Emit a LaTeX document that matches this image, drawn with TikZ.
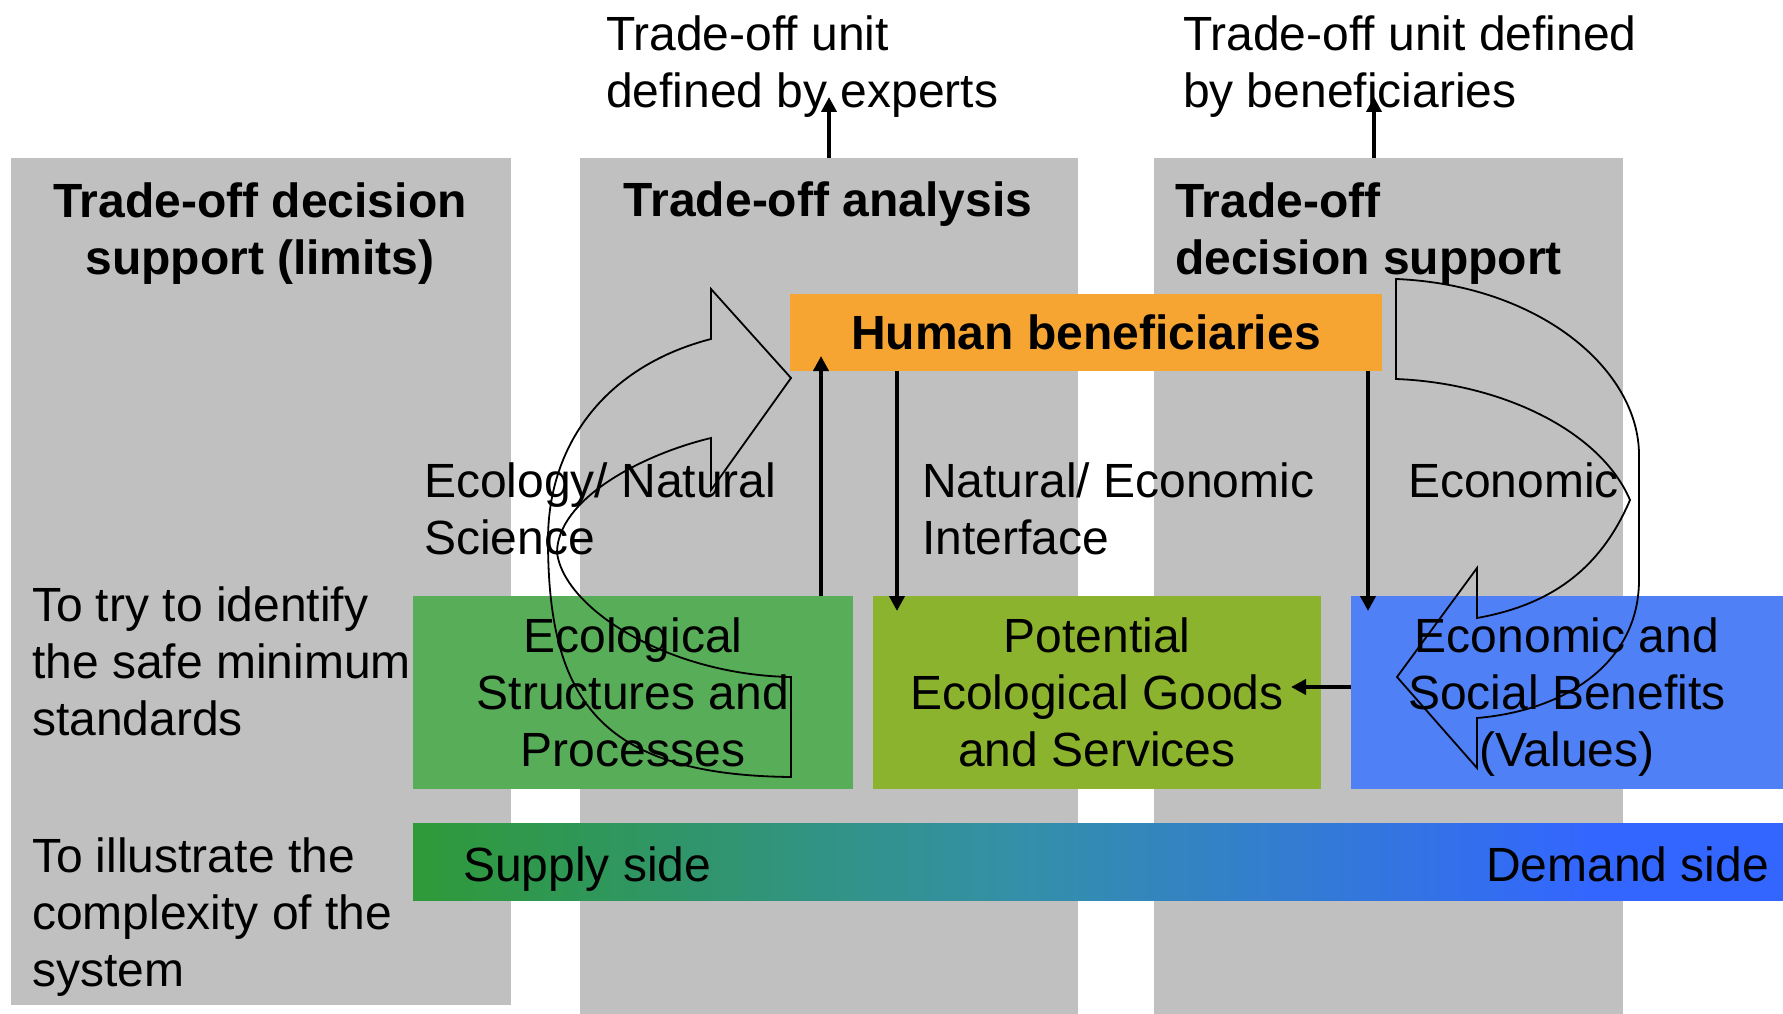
\documentclass[tikz,border=0pt]{standalone}
\usepackage{fontspec}
\setmainfont{Liberation Sans}
\usetikzlibrary{arrows.meta}
\definecolor{colgray}{HTML}{C0C0C0}
\definecolor{hbor}{HTML}{F6A533}
\definecolor{ecogreen}{HTML}{58AD58}
\definecolor{olive}{HTML}{8CB32E}
\definecolor{valblue}{HTML}{5080F6}
\definecolor{barg}{HTML}{2E9A38}
\definecolor{barm}{HTML}{3390A8}
\definecolor{barb}{HTML}{3366FF}
\pgfdeclarehorizontalshading{barshade}{100bp}{color(0bp)=(barg); color(25bp)=(barg); color(47bp)=(barm); color(68bp)=(barb); color(100bp)=(barb)}
\begin{document}
\begin{tikzpicture}[x=1pt,y=-1pt,
  every node/.style={inner sep=0pt, outer sep=0pt},
  lbl/.style={font=\fontsize{48}{57}\selectfont, text=black},
  hlbl/.style={font=\fontsize{48}{57}\selectfont\bfseries, text=black},
  colbox/.style={fill=colgray, anchor=north west},
  stripbox/.style={anchor=north west, align=center, font=\fontsize{48}{57}\selectfont},
  arr/.style={line width=4pt, -{Triangle[length=15pt,width=15pt]}},
  curv/.style={draw=black, line width=1.8pt, line join=miter}]
\useasboundingbox (0,0) rectangle (1783,1014);
\fill[white] (0,0) rectangle (1783,1014);
% columns
\node[colbox, minimum width=500pt, minimum height=847pt] (col1) at (11,158) {};
\node[colbox, minimum width=498pt, minimum height=856pt] (col2) at (580,158) {};
\node[colbox, minimum width=469pt, minimum height=856pt] (col3) at (1154,158) {};
% boxes
\node[stripbox, fill=hbor, minimum width=592pt, minimum height=77pt, font=\fontsize{48}{57}\selectfont\bfseries] (hb) at (790,294) {Human beneficiaries};
\node[stripbox, fill=ecogreen, minimum width=440pt, minimum height=193pt] (eco) at (413,596) {Ecological\\Structures and\\Processes};
\node[stripbox, fill=olive, minimum width=448pt, minimum height=193pt] (egs) at (873,596) {Potential\\Ecological Goods\\and Services};
\node[stripbox, fill=valblue, minimum width=432pt, minimum height=193pt] (val) at (1351,596) {Economic and\\Social Benefits\\\raisebox{0pt}[\height][0pt]{(Values)}};
\node[anchor=north west, shade, shading=barshade, minimum width=1370pt, minimum height=77pt] (bar) at (413,823) {};
% texts (anchor base = baseline of the last line)
\node[hlbl, align=center, anchor=base] (h1) at (260,274) {Trade-off decision\\support (limits)};
\node[hlbl, anchor=base] (h2) at (828,216) {Trade-off analysis};
\node[hlbl, align=left, anchor=base west] (h3) at (1175,274) {Trade-off\\decision support};
\node[lbl, align=left, anchor=base west] (u1) at (606,108) {Trade-off unit\\defined by experts};
\node[lbl, align=left, anchor=base west] (u2) at (1183,108) {Trade-off unit defined\\by beneficiaries};
\node[lbl, align=left, anchor=base west] (l1) at (424,554) {Ecology/ Natural\\Science};
\node[lbl, align=left, anchor=base west] (l2) at (922,554) {Natural/ Economic\\Interface};
\node[lbl, anchor=base west] (l3) at (1408,497) {Economic};
\node[lbl, align=left, anchor=base west] (s1) at (32,735) {To try to identify\\the safe minimum\\standards};
\node[lbl, align=left, anchor=base west] (s2) at (32,986) {To illustrate the\\complexity of the\\system};
\node[lbl, anchor=base west] (sup) at (463,881) {Supply side};
\node[lbl, anchor=base east] (dem) at (1769,881) {Demand side};
% arrow end coordinates
\coordinate (tipE) at (821,356);
\coordinate (tipX) at (829,97);
\coordinate (tipB) at (1374,97);
\coordinate (tipG) at (897,611);
\coordinate (tipV) at (1368,611);
\coordinate (tipL) at (1291,687);
% straight arrows
\draw[arr] (tipE |- eco.north) -- (tipE);
\draw[arr] (tipG |- hb.south) -- (tipG);
\draw[arr] (tipV |- hb.south) -- (tipV);
\draw[arr] (val.west |- tipL) -- (tipL);
\draw[arr] (tipX |- col2.north) -- (tipX);
\draw[arr] (tipB |- col3.north) -- (tipB);
% curved block arrows (outlines)
\draw[curv] (711,339) -- (711,289) -- (791,378) -- (711,490) -- (711,438)
  .. controls (640,455) and (557,500) .. (557,553)
  .. controls (565,610) and (670,675) .. (791,677)
  -- (791,777)
  .. controls (600,775) and (548,700) .. (548,540)
  .. controls (548,440) and (610,365) .. (711,339) -- cycle;
\draw[curv] (1477,618) -- (1477,568) -- (1397,677) -- (1477,768) -- (1477,718)
  .. controls (1570,710) and (1639,660) .. (1639,580)
  -- (1639,455)
  .. controls (1639,370) and (1540,285) .. (1396,279)
  -- (1396,379)
  .. controls (1500,383) and (1600,430) .. (1630,500)
  .. controls (1600,570) and (1550,605) .. (1477,618) -- cycle;
\end{tikzpicture}
\end{document}
